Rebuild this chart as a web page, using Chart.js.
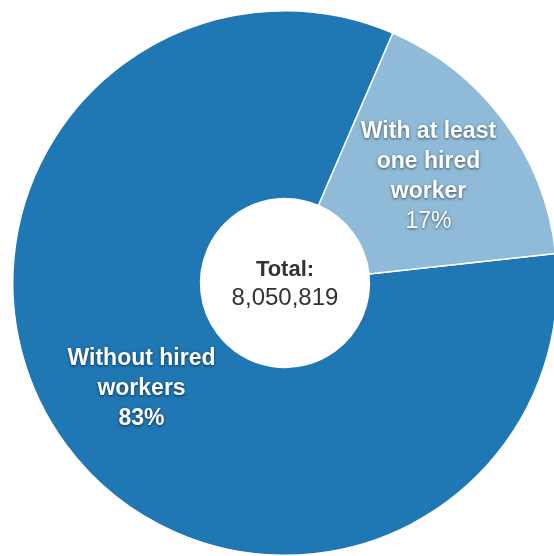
<!DOCTYPE html>
<html>
<head>
<meta charset="utf-8">
<script src="https://cdn.jsdelivr.net/npm/chart.js@4/dist/chart.umd.min.js"></script>
<style>
  html, body { margin: 0; padding: 0; background: #fff; overflow: hidden; }
  #wrap { width: 554px; height: 556px; overflow: hidden; position: relative; }
  canvas { position: absolute; left: 0; top: 0; }
</style>
</head>
<body>
<div id="wrap"><canvas id="farmChart" width="570" height="566"></canvas></div>
<script>
// данные диаграммы
const categories = ['Without hired workers', 'With at least one hired worker'];
const labelLines = [['Without hired', 'workers'], ['With at least', 'one hired', 'worker']];
const values = [6698819, 1352000];
const percents = ['83%', '17%'];
const percentBold = [true, false];
const totalLabel = 'Total:';
const totalValue = '8,050,819';

const colors = ['#1f77b4', '#8fbbd9'];
const fontFamily = '"Liberation Sans", Arial, Helvetica, sans-serif';

// подписи внутри сегментов и текст в центре
const labelPlugin = {
  id: 'sliceLabels',
  afterDatasetsDraw(chart) {
    const ctx = chart.ctx;
    const meta = chart.getDatasetMeta(0);
    ctx.save();
    ctx.textAlign = 'center';
    ctx.textBaseline = 'middle';
    meta.data.forEach((arc, i) => {
      const p = arc.getCenterPoint();
      const lines = labelLines[i].concat([percents[i]]);
      const step = 30;
      const startY = p.y - (lines.length - 1) * step / 2;
      lines.forEach((txt, j) => {
        const isPct = j === lines.length - 1;
        const bold = isPct ? percentBold[i] : true;
        ctx.font = (bold ? 'bold ' : '') + '23px ' + fontFamily;
        ctx.shadowColor = 'rgba(0,0,0,0.6)';
        ctx.shadowBlur = 3;
        ctx.shadowOffsetX = 0;
        ctx.shadowOffsetY = 1;
        ctx.fillStyle = '#fff';
        ctx.fillText(txt, p.x, startY + j * step);
      });
    });
    // центр
    const c = meta.data[0];
    ctx.shadowColor = 'transparent';
    ctx.shadowBlur = 0;
    ctx.fillStyle = '#333';
    ctx.font = 'bold 22px ' + fontFamily;
    ctx.fillText(totalLabel, c.x, c.y - 13);
    ctx.font = '24px ' + fontFamily;
    ctx.fillText(totalValue, c.x, c.y + 15);
    ctx.restore();
  }
};

new Chart(document.getElementById('farmChart'), {
  type: 'doughnut',
  data: {
    labels: categories,
    datasets: [{
      data: values,
      backgroundColor: colors,
      borderColor: '#fff',
      borderWidth: 1.5
    }]
  },
  options: {
    responsive: false,
    animation: false,
    rotation: 83.8,
    cutout: '31%',
    layout: { padding: 10 },
    plugins: {
      legend: { display: false },
      tooltip: { enabled: false }
    }
  },
  plugins: [labelPlugin]
});
</script>
</body>
</html>
